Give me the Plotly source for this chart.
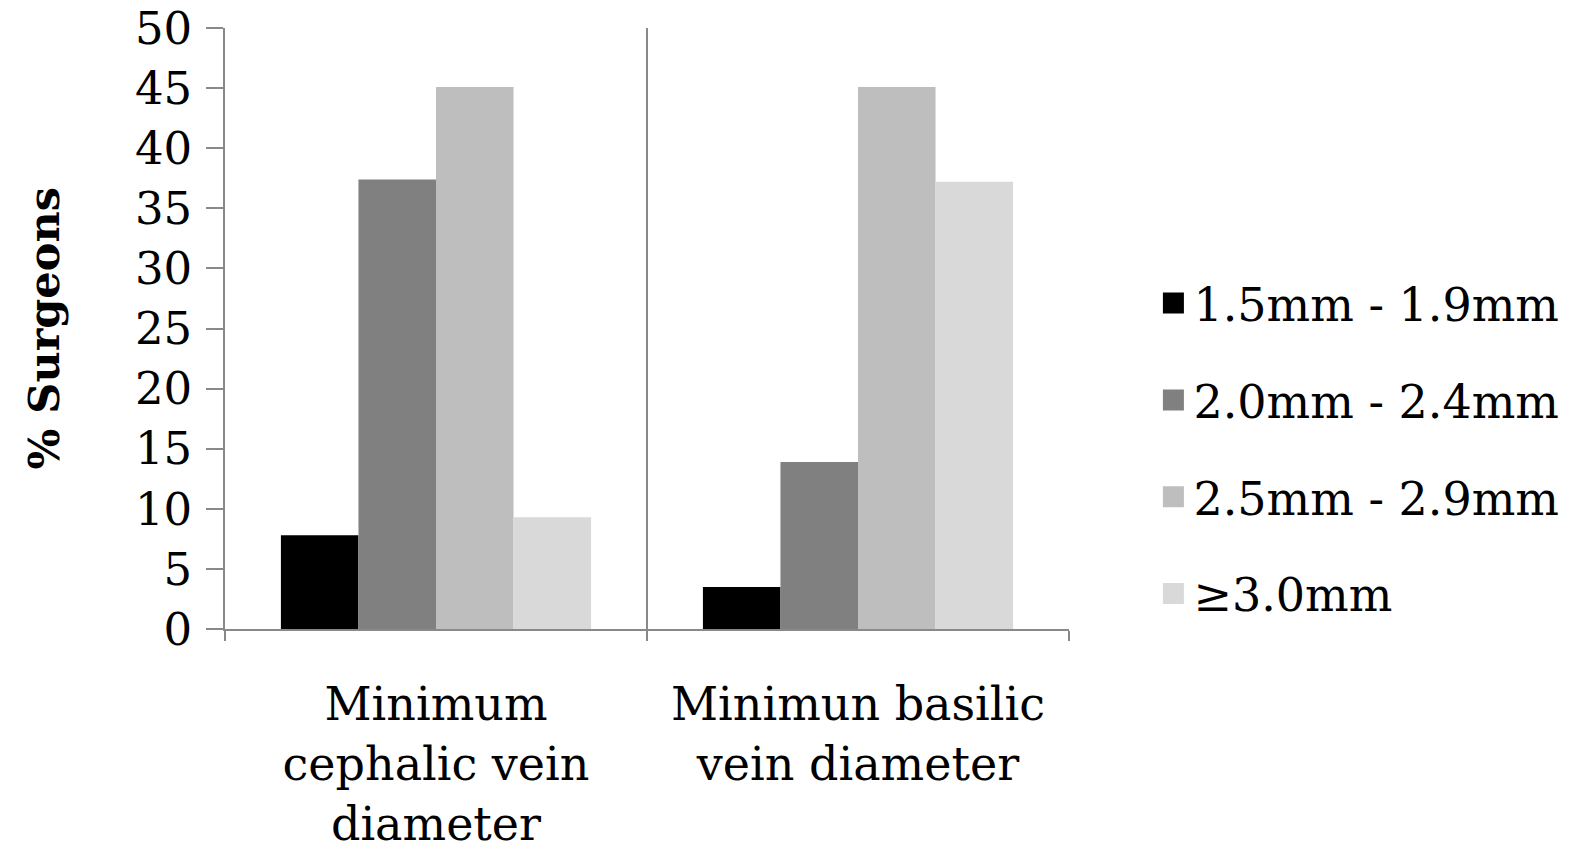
import plotly.graph_objects as go

categories = ["Minimum<br>cephalic vein<br>diameter", "Minimun basilic<br>vein diameter"]
series_names = ["1.5mm - 1.9mm", "2.0mm - 2.4mm", "2.5mm - 2.9mm", "≥3.0mm"]
series_values = [
    [7.8, 3.5],
    [37.4, 13.9],
    [45.1, 45.1],
    [9.3, 37.2],
]
colors = ["#000000", "#808080", "#bebebe", "#d9d9d9"]
y_ticks = [0, 5, 10, 15, 20, 25, 30, 35, 40, 45, 50]

FONT = "DejaVu Serif"
AXIS_COLOR = "#898989"

fig = go.Figure()
for name, vals, col in zip(series_names, series_values, colors):
    fig.add_trace(go.Bar(
        x=categories, y=vals, name=name, showlegend=False,
        marker=dict(color=col, line=dict(width=0)),
    ))
    # legend entry with a larger square swatch
    fig.add_trace(go.Scatter(
        x=[None], y=[None], mode="markers", name=name, legendgroup=name,
        marker=dict(symbol="square", size=16, color=col, line=dict(color=col, width=5)),
        hoverinfo="skip",
    ))

fig.update_layout(
    width=1589, height=860,
    margin=dict(l=225, r=520, t=28, b=231),
    paper_bgcolor="white", plot_bgcolor="white",
    barmode="group", bargap=0.265, bargroupgap=0,
    font=dict(family=FONT, color="black", size=44),
    showlegend=True,
    legend=dict(
        x=1.100, xanchor="left", y=0.300, yanchor="middle",
        font=dict(family=FONT, size=46, color="black"),
        traceorder="grouped", tracegroupgap=34,
        itemsizing="trace",
        bgcolor="rgba(0,0,0,0)",
    ),
    annotations=[dict(
        text="<b>% Surgeons</b>", textangle=-90,
        xref="paper", yref="paper", x=(43 - 225) / 844, y=0.5,
        xanchor="center", yanchor="middle", showarrow=False,
        font=dict(family=FONT, size=43, color="black"),
    )],
)

fig.update_xaxes(
    type="category", tickson="boundaries", automargin=False,
    showgrid=True, gridcolor=AXIS_COLOR, gridwidth=1.5,
    showline=True, linecolor=AXIS_COLOR, linewidth=1.5,
    ticks="outside", ticklen=10, tickcolor=AXIS_COLOR, tickwidth=1.5,
    ticklabelstandoff=34,
    tickfont=dict(family=FONT, size=46, color="black"),
)
fig.update_yaxes(
    range=[0, 50], tickvals=y_ticks, automargin=False,
    showgrid=False, zeroline=False,
    showline=True, linecolor=AXIS_COLOR, linewidth=1.5,
    ticks="outside", ticklen=17, tickcolor=AXIS_COLOR, tickwidth=1.5,
    ticklabelstandoff=5,
    tickfont=dict(family=FONT, size=45, color="black"),
)

fig.write_html("out.html")
